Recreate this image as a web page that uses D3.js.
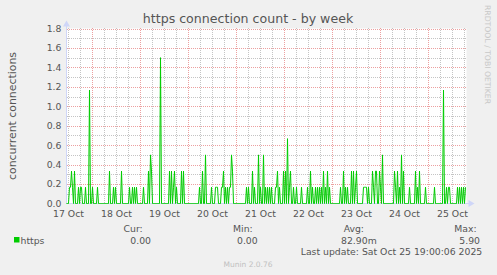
<!DOCTYPE html>
<html>
<head>
<meta charset="utf-8">
<script src="https://cdn.jsdelivr.net/npm/d3@7"></script>
<style>
  body { margin: 0; background: #f0f0f0; }
  svg { display: block; font-family: "DejaVu Sans", sans-serif; }
</style>
</head>
<body>
<div id="chart"></div>
<script>
// munin weekly graph, one sample every 30 min

const title = "https connection count - by week"
const yLabel = "concurrent connections"
const seriesName = "https"
const startTime = new Date(2025, 9, 17, 11, 0)
const endTime = new Date(2025, 9, 25, 19, 0)
const slotMinutes = 30
const yTicks = [0, 0.2, 0.4, 0.6, 0.8, 1.0, 1.2, 1.4, 1.6, 1.8]

// half hour slots (from startTime) where the count was not 0, and the value there
const busySlots = [3, 4, 5, 6, 8, 12, 14, 15, 19, 23, 26, 31, 43, 47, 49, 55, 63, 66, 68, 70,
  77, 82, 84, 85, 94, 103, 105, 107, 108, 110, 115, 117, 133, 136, 139, 145, 149, 150, 151,
  155, 156, 157, 159, 161, 163, 164, 165, 166, 180, 182, 186, 188, 192, 194, 197, 199, 201,
  203, 205, 209, 210, 211, 213, 217, 219, 221, 223, 224, 227, 230, 235, 241, 244, 246, 249,
  251, 253, 255, 257, 259, 261, 263, 274, 277, 279, 281, 285, 287, 289, 290, 297, 298, 299,
  300, 302, 306, 307, 309, 310, 313, 314, 316, 328, 329, 331, 333, 335, 337, 343, 349, 351,
  353, 359, 368, 377, 380, 382, 383, 391, 393, 395, 397, 399]
const busyValues = [0.167, 0.167, 0.333, 0.167, 0.333, 0.167, 0.167, 0.167, 0.167, 1.167,
  0.167, 0.167, 0.333, 0.167, 0.167, 0.333, 0.167, 0.167, 0.167, 0.167,
  0.167, 0.333, 0.5, 0.333, 1.5, 0.333, 0.333, 0.167, 0.333, 0.167, 0.333, 0.333, 0.167,
  0.333, 0.5, 0.167, 0.167, 0.167, 0.167,
  0.167, 0.167, 0.333, 0.167, 0.167, 0.167, 0.167, 0.5, 0.333, 0.167, 0.167, 0.333, 0.167,
  0.5, 0.167, 0.5, 0.167, 0.167,
  0.167, 0.167, 0.167, 0.167, 0.333, 0.167, 0.333, 0.333, 0.667, 0.167, 0.333, 0.167, 0.167,
  0.167, 0.167, 0.333, 0.167, 0.167,
  0.167, 0.167, 0.167, 0.333, 0.167, 0.333, 0.167, 0.167, 0.333, 0.167, 0.167, 0.333, 0.333,
  0.167, 0.333, 0.167, 0.167, 0.167,
  0.167, 0.167, 0.333, 0.167, 0.333, 0.333, 0.333, 0.167, 0.5, 0.333, 0.167, 0.333, 0.167,
  0.5, 0.333, 0.167, 0.333, 0.167,
  0.333, 0.167, 0.167, 1.167, 0.167, 0.167, 0.167, 0.167, 0.167, 0.167, 0.167, 0.167]

const statLabels = ["Cur:", "Min:", "Avg:", "Max:"]
const statValues = ["0.00", "0.00", "82.90m", "5.90"]
const lastUpdate = "Last update: Sat Oct 25 19:00:06 2025"
const footer = "Munin 2.0.76"
const sideText = "RRDTOOL / TOBI OETIKER"

const W = 497, H = 275
const plot = {left: 66.5, right: 466.5, top: 28.5, bottom: 203.5}
const green = "#00cc00"
const fontCol = "#555"
const axisCol = "#cfd6f8"
const gridCol = "#c4c4c4", mgridCol = "#eca0a0"

// build the series: every slot is 0 unless listed above
const nSlots = Math.round((endTime - startTime) / 60000 / slotMinutes)
var data = []
for (let i = 0; i < nSlots; i++) {
  data.push({t: d3.timeMinute.offset(startTime, i * slotMinutes), v: 0})
}
busySlots.forEach((s, k) => { data[s].v = busyValues[k] })

var x = d3.scaleTime().domain([startTime, endTime]).range([plot.left, plot.right])
var y = d3.scaleLinear().domain([0, 1.8]).range([plot.bottom, plot.top])

var svg = d3.select("#chart").append("svg")
  .attr("width", W).attr("height", H)

svg.append("rect").attr("width", W).attr("height", H).attr("fill", "#f0f0f0")
svg.append("rect")
  .attr("x", plot.left).attr("y", plot.top)
  .attr("width", plot.right - plot.left).attr("height", plot.bottom - plot.top)
  .attr("fill", "#fff")

// grid, dashes start on whole pixels so the dots stay sharp
var minorY = d3.range(1, 19).map(d => d / 10).filter(d => Math.round(d * 10) % 2 == 1)
svg.append("g").selectAll("line").data(minorY).join("line")
  .attr("x1", plot.left + 0.5).attr("x2", plot.right)
  .attr("y1", d => Math.round(y(d)) + 0.5).attr("y2", d => Math.round(y(d)) + 0.5)
  .attr("stroke", gridCol).attr("stroke-dasharray", "1,1")
svg.append("g").selectAll("line").data(yTicks.slice(1)).join("line")
  .attr("x1", plot.left + 0.5).attr("x2", plot.right)
  .attr("y1", d => Math.round(y(d)) + 0.5).attr("y2", d => Math.round(y(d)) + 0.5)
  .attr("stroke", mgridCol).attr("stroke-dasharray", "1,1")

var sixHours = d3.timeHour.every(6).range(startTime, endTime).filter(d => d.getHours() != 0)
svg.append("g").selectAll("line").data(sixHours).join("line")
  .attr("x1", d => x(d)).attr("x2", d => x(d))
  .attr("y1", plot.top - 0.5).attr("y2", plot.bottom - 0.5)
  .attr("stroke", gridCol).attr("stroke-dasharray", "1,1")
var midnights = d3.timeDay.range(startTime, endTime)
svg.append("g").selectAll("line").data(midnights).join("line")
  .attr("x1", d => x(d)).attr("x2", d => x(d))
  .attr("y1", plot.top - 0.5).attr("y2", plot.bottom - 0.5)
  .attr("stroke", mgridCol).attr("stroke-dasharray", "1,1")

// axis lines + arrows
svg.append("line").attr("x1", plot.left).attr("x2", plot.right + 4)
  .attr("y1", plot.bottom).attr("y2", plot.bottom).attr("stroke", axisCol)
svg.append("line").attr("x1", plot.left).attr("x2", plot.left)
  .attr("y1", plot.bottom).attr("y2", plot.top - 4).attr("stroke", axisCol)
svg.append("path")
  .attr("d", `M${plot.right + 2},${plot.bottom - 3.5}L${plot.right + 8},${plot.bottom}L${plot.right + 2},${plot.bottom + 3.5}Z`)
  .attr("fill", axisCol)
svg.append("path")
  .attr("d", `M${plot.left - 3.5},${plot.top - 2}L${plot.left},${plot.top - 8}L${plot.left + 3.5},${plot.top - 2}Z`)
  .attr("fill", axisCol)

// data line
svg.append("path")
  .datum(data)
  .attr("fill", "none")
  .attr("stroke", green)
  .attr("stroke-width", 1)
  .attr("d", d3.line().x(d => x(d.t)).y(d => y(d.v)))

// tick labels
svg.append("g").selectAll("text").data(yTicks).join("text")
  .attr("x", 61.5).attr("y", d => y(d)).attr("dy", "0.36em")
  .attr("text-anchor", "end")
  .style("font-size", "9.3px").attr("fill", fontCol)
  .text(d => d.toFixed(1))

var noons = d3.timeDay.range(d3.timeDay.floor(startTime), endTime).map(d => d3.timeHour.offset(d, 12))
svg.append("g").selectAll("text").data(noons).join("text")
  .attr("x", d => x(d)).attr("y", 216.5)
  .attr("text-anchor", "middle")
  .style("font-size", "9.3px").attr("fill", fontCol)
  .text(d3.timeFormat("%d %b"))

// titles
svg.append("text").attr("x", 248).attr("y", 22.5).attr("text-anchor", "middle")
  .style("font-size", "12.6px").attr("fill", fontCol).text(title)
svg.append("text")
  .attr("transform", "translate(15.5," + ((plot.top + plot.bottom) / 2) + ") rotate(-90)")
  .attr("text-anchor", "middle")
  .style("font-size", "10.9px").attr("fill", fontCol).text(yLabel)
svg.append("text")
  .attr("transform", "translate(485,5) rotate(90)")
  .style("font-size", "7.7px").attr("fill", "#c8c8c8").text(sideText)

// legend
svg.append("rect").attr("x", 14).attr("y", 237).attr("width", 5.5).attr("height", 5.5).attr("fill", green)
svg.append("text").attr("x", 20.5).attr("y", 243.5)
  .style("font-size", "9.3px").attr("fill", fontCol).text(seriesName)
const labelRight = [142.7, 252.7, 364, 476.7]
const valueRight = [151, 257.7, 376.7, 480]
svg.append("g").selectAll("text").data(statLabels).join("text")
  .attr("x", (d, i) => labelRight[i]).attr("y", 231.5).attr("text-anchor", "end")
  .style("font-size", "9.3px").attr("fill", fontCol).text(d => d)
svg.append("g").selectAll("text").data(statValues).join("text")
  .attr("x", (d, i) => valueRight[i]).attr("y", 243.5).attr("text-anchor", "end")
  .style("font-size", "9.3px").attr("fill", fontCol).text(d => d)
svg.append("text").attr("x", 482.3).attr("y", 255.3).attr("text-anchor", "end")
  .style("font-size", "9.3px").attr("fill", fontCol).text(lastUpdate)
svg.append("text").attr("x", 248).attr("y", 266.5).attr("text-anchor", "middle")
  .style("font-size", "7.5px").attr("fill", "#c0c0c0").text(footer)
</script>
</body>
</html>
